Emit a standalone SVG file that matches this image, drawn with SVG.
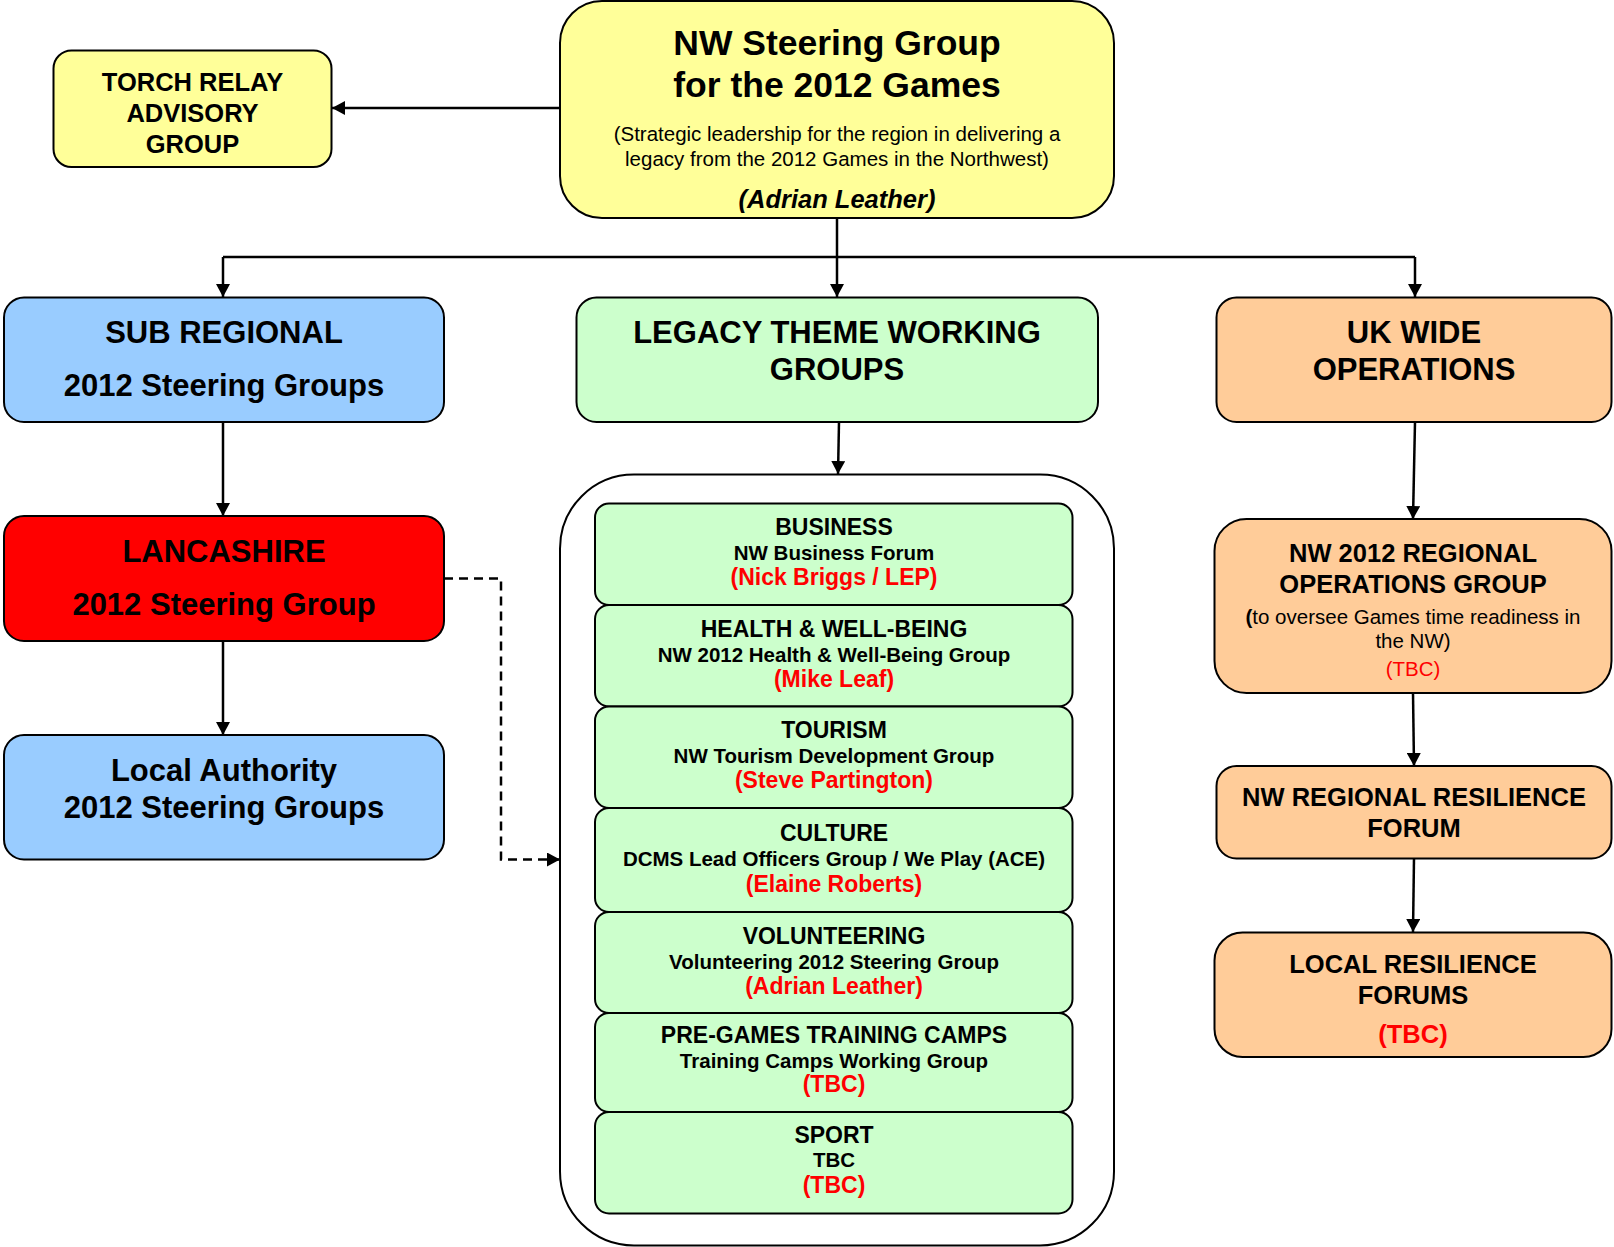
<svg xmlns="http://www.w3.org/2000/svg" width="1614" height="1247" viewBox="0 0 1614 1247">
<defs>
<marker id="arr" markerUnits="userSpaceOnUse" markerWidth="14" markerHeight="14" refX="13" refY="7" orient="auto">
<path d="M0,0 L13,7 L0,14 z" fill="#000"/>
</marker>
<style>
text{font-family:"Liberation Sans",Arial,sans-serif;text-anchor:middle;fill:#000}
.box{stroke:#000;stroke-width:2}
.y{fill:#FFFF99}.b{fill:#99CCFF}.g{fill:#CCFFCC}.o{fill:#FFCC99}.r{fill:#FF0000}
.big{font-size:31px;font-weight:bold}
.mid{font-size:25.5px;font-weight:bold}
.t{font-size:23px;font-weight:bold}
.s{font-size:20.5px;font-weight:bold}
.reg{font-size:20.5px}
.red{fill:#FF0000}
.ln{stroke:#000;stroke-width:2.5;fill:none}
</style>
</defs>
<g id="connectors">
<line class="ln" x1="560" y1="108" x2="332" y2="108" marker-end="url(#arr)"/>
<line class="ln" x1="223" y1="257" x2="1415" y2="257"/>
<line class="ln" x1="837" y1="218" x2="837" y2="297" marker-end="url(#arr)"/>
<line class="ln" x1="223" y1="257" x2="223" y2="297" marker-end="url(#arr)"/>
<line class="ln" x1="1415" y1="257" x2="1415" y2="297" marker-end="url(#arr)"/>
<line class="ln" x1="223" y1="422" x2="223" y2="516" marker-end="url(#arr)"/>
<line class="ln" x1="223" y1="641" x2="223" y2="735" marker-end="url(#arr)"/>
<line class="ln" x1="839" y1="422" x2="838" y2="474" marker-end="url(#arr)"/>
<line class="ln" x1="1415" y1="422" x2="1413" y2="519" marker-end="url(#arr)"/>
<line class="ln" x1="1413" y1="693" x2="1414" y2="766" marker-end="url(#arr)"/>
<line class="ln" x1="1414" y1="858" x2="1413" y2="932" marker-end="url(#arr)"/>
<path class="ln" d="M444,578.5 H501 V859.5 H560" stroke-dasharray="9 6" marker-end="url(#arr)"/>
</g>
<g id="steering">
<rect class="box y" x="560" y="1" width="554" height="217" rx="42"/>
<text x="837" y="55" style="font-size:35.5px;font-weight:bold">NW Steering Group</text>
<text x="837" y="97" style="font-size:35.5px;font-weight:bold">for the 2012 Games</text>
<text class="reg" x="837" y="141">(Strategic leadership for the region in delivering a</text>
<text class="reg" x="837" y="166">legacy from the 2012 Games in the Northwest)</text>
<text x="837" y="208" style="font-size:25.5px;font-weight:bold;font-style:italic">(Adrian Leather)</text>
</g>
<g id="torch">
<rect class="box y" x="53.5" y="50.5" width="278" height="116.5" rx="18"/>
<text class="mid" x="192.5" y="91">TORCH RELAY</text>
<text class="mid" x="192.5" y="122">ADVISORY</text>
<text class="mid" x="192.5" y="153">GROUP</text>
</g>
<g id="subregional">
<rect class="box b" x="4" y="297.5" width="440" height="124.5" rx="20"/>
<text class="big" x="224" y="343">SUB REGIONAL</text>
<text class="big" x="224" y="396">2012 Steering Groups</text>
</g>
<g id="legacy">
<rect class="box g" x="576.5" y="297.5" width="521.5" height="124.5" rx="20"/>
<text class="big" x="837" y="343">LEGACY THEME WORKING</text>
<text class="big" x="837" y="380">GROUPS</text>
</g>
<g id="ukwide">
<rect class="box o" x="1216.5" y="297.5" width="395" height="124.5" rx="20"/>
<text class="big" x="1414" y="343">UK WIDE</text>
<text class="big" x="1414" y="380">OPERATIONS</text>
</g>
<g id="lancashire">
<rect class="box r" x="4" y="516" width="440" height="125" rx="20"/>
<text class="big" x="224" y="562">LANCASHIRE</text>
<text class="big" x="224" y="615">2012 Steering Group</text>
</g>
<g id="localauthority">
<rect class="box b" x="4" y="735" width="440" height="124.5" rx="20"/>
<text class="big" x="224" y="781">Local Authority</text>
<text class="big" x="224" y="818">2012 Steering Groups</text>
</g>
<g id="container">
<rect x="560" y="474.5" width="554" height="771" rx="74" fill="#fff" stroke="#000" stroke-width="2"/>
</g>
<g id="business">
<rect class="box g" x="595" y="503.5" width="477.5" height="101.5" rx="14"/>
<text class="t" x="834" y="535">BUSINESS</text>
<text class="s" x="834" y="560">NW Business Forum</text>
<text class="t red" x="834" y="585">(Nick Briggs / LEP)</text>
</g>
<g id="health">
<rect class="box g" x="595" y="605" width="477.5" height="101.5" rx="14"/>
<text class="t" x="834" y="636.5">HEALTH &amp; WELL-BEING</text>
<text class="s" x="834" y="661.5">NW 2012 Health &amp; Well-Being Group</text>
<text class="t red" x="834" y="686.5">(Mike Leaf)</text>
</g>
<g id="tourism">
<rect class="box g" x="595" y="706.5" width="477.5" height="101.5" rx="14"/>
<text class="t" x="834" y="738">TOURISM</text>
<text class="s" x="834" y="763">NW Tourism Development Group</text>
<text class="t red" x="834" y="788">(Steve Partington)</text>
</g>
<g id="culture">
<rect class="box g" x="595" y="808" width="477.5" height="104" rx="14"/>
<text class="t" x="834" y="841">CULTURE</text>
<text class="s" x="834" y="866">DCMS Lead Officers Group / We Play (ACE)</text>
<text class="t red" x="834" y="892">(Elaine Roberts)</text>
</g>
<g id="volunteering">
<rect class="box g" x="595" y="912" width="477.5" height="101" rx="14"/>
<text class="t" x="834" y="944">VOLUNTEERING</text>
<text class="s" x="834" y="968.5">Volunteering 2012 Steering Group</text>
<text class="t red" x="834" y="994">(Adrian Leather)</text>
</g>
<g id="pregames">
<rect class="box g" x="595" y="1013" width="477.5" height="99" rx="14"/>
<text class="t" x="834" y="1043">PRE-GAMES TRAINING CAMPS</text>
<text class="s" x="834" y="1068">Training Camps Working Group</text>
<text class="t red" x="834" y="1092">(TBC)</text>
</g>
<g id="sport">
<rect class="box g" x="595" y="1112" width="477.5" height="101.5" rx="14"/>
<text class="t" x="834" y="1143">SPORT</text>
<text class="s" x="834" y="1167">TBC</text>
<text class="t red" x="834" y="1193">(TBC)</text>
</g>
<g id="regionalops">
<rect class="box o" x="1214.5" y="519" width="397" height="174" rx="32"/>
<text class="mid" x="1413" y="562">NW 2012 REGIONAL</text>
<text class="mid" x="1413" y="593">OPERATIONS GROUP</text>
<text class="reg" x="1413" y="624"><tspan font-weight="bold">(</tspan>to oversee Games time readiness in</text>
<text class="reg" x="1413" y="648">the NW)</text>
<text class="reg red" x="1413" y="676">(TBC)</text>
</g>
<g id="resilience">
<rect class="box o" x="1216.5" y="766" width="395" height="92.5" rx="20"/>
<text class="mid" x="1414" y="806">NW REGIONAL RESILIENCE</text>
<text class="mid" x="1414" y="837">FORUM</text>
</g>
<g id="localresilience">
<rect class="box o" x="1214.5" y="932.5" width="397" height="124.5" rx="28"/>
<text class="mid" x="1413" y="973">LOCAL RESILIENCE</text>
<text class="mid" x="1413" y="1004">FORUMS</text>
<text class="mid red" x="1413" y="1043">(TBC)</text>
</g>
</svg>
